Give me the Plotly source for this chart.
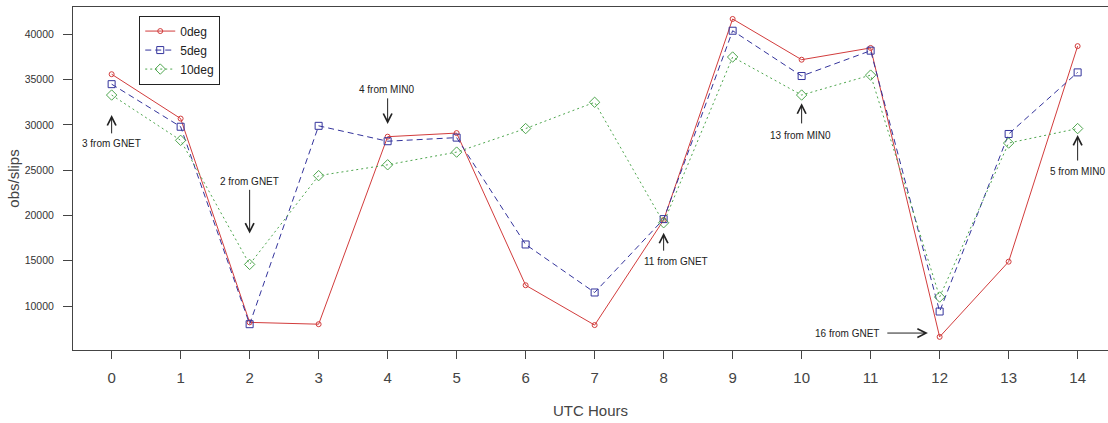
import plotly.graph_objects as go

hours = list(range(15))
deg0 = [35600, 30700, 8200, 8000, 28700, 29100, 12300, 7900, 19500, 41700, 37200, 38500, 6600, 14900, 38700]
deg5 = [34500, 29800, 8000, 29900, 28200, 28600, 16800, 11500, 19600, 40400, 35400, 38200, 9400, 29000, 35800]
deg10 = [33300, 28300, 14600, 24400, 25600, 27000, 29600, 32500, 19200, 37500, 33300, 35500, 11000, 28000, 29600]
series_names = ["0deg", "5deg", "10deg"]
y_ticks = [10000, 15000, 20000, 25000, 30000, 35000, 40000]

# annotation notes: (text, text_x, text_y, arrow tip x, tip y, tail x, tail y, text anchor)
notes = [
    ("3 from GNET", 0.0, 27900, 0.0, 31100, 0.0, 28900, "center"),
    ("2 from GNET", 2.0, 23800, 2.0, 18000, 2.0, 23000, "center"),
    ("4 from MIN0", 3.99, 33950, 4.0, 30100, 4.0, 33100, "center"),
    ("11 from GNET", 8.18, 14970, 8.0, 18100, 8.0, 15950, "center"),
    ("13 from MIN0", 9.98, 28880, 10.0, 32400, 10.0, 30000, "center"),
    ("16 from GNET", 11.15, 6950, 11.83, 7020, 11.22, 7020, "right"),
    ("5 from MIN0", 14.0, 24900, 14.0, 28900, 14.0, 25900, "center"),
]

FONT = "Liberation Sans, Arial, sans-serif"
fig = go.Figure()
styles = [
    dict(color="#d23c3c", dash="solid", symbol="circle-open", size=5),
    dict(color="#34349c", dash="6px,4px", symbol="square-open", size=7),
    dict(color="#4ea64e", dash="2px,3px", symbol="diamond-open", size=8),
]
for name, vals, st in zip(series_names, [deg0, deg5, deg10], styles):
    fig.add_trace(go.Scatter(
        x=hours, y=vals, name=name, mode="lines+markers",
        line=dict(color=st["color"], width=1, dash=st["dash"]),
        marker=dict(symbol=st["symbol"], size=st["size"], color=st["color"],
                    line=dict(color=st["color"], width=1)),
    ))

annotations = []
for text, tx, ty, hx, hy, ax, ay, anch in notes:
    annotations.append(dict(x=hx, y=hy, ax=ax, ay=ay, xref="x", yref="y",
                            axref="x", ayref="y", text="", showarrow=True,
                            arrowhead=5, arrowsize=1.7, arrowwidth=1, arrowcolor="#222"))
    annotations.append(dict(x=tx, y=ty, xref="x", yref="y", text=text, showarrow=False,
                            xanchor=anch, yanchor="middle",
                            font=dict(family=FONT, size=10, color="#222")))

fig.update_layout(
    width=1108, height=423,
    margin=dict(l=73, r=0, t=7, b=73),
    paper_bgcolor="white", plot_bgcolor="white",
    font=dict(family=FONT, color="#333"),
    showlegend=True,
    legend=dict(x=0.064, y=0.975, xanchor="left", yanchor="top",
                bordercolor="#222", borderwidth=1, bgcolor="white",
                font=dict(family=FONT, size=12, color="#222"),
                itemwidth=30, tracegroupgap=0),
    annotations=annotations,
    xaxis=dict(range=[-0.56, 14.44], tickmode="array", tickvals=hours,
               ticktext=[str(h) for h in hours], ticks="outside", ticklen=8,
               tickcolor="#444", showgrid=False, zeroline=False,
               showline=True, linecolor="#444", linewidth=1, mirror=True,
               tickfont=dict(family=FONT, size=15, color="#444"),
               ticklabelstandoff=6,
               title=dict(text="UTC Hours", font=dict(family=FONT, size=15, color="#444"),
                          standoff=20)),
    yaxis=dict(range=[5150, 43020], tickmode="array",
               tickvals=y_ticks, ticktext=[str(v) for v in y_ticks],
               ticks="outside", ticklen=9, tickcolor="#444",
               showgrid=False, zeroline=False, showline=True, linecolor="#444",
               linewidth=1, mirror=False,
               tickfont=dict(family=FONT, size=10.5, color="#333"),
               ticklabelstandoff=7,
               title=dict(text="obs/slips", font=dict(family=FONT, size=15, color="#444"),
                          standoff=1)),
)

fig.write_html("out.html")
